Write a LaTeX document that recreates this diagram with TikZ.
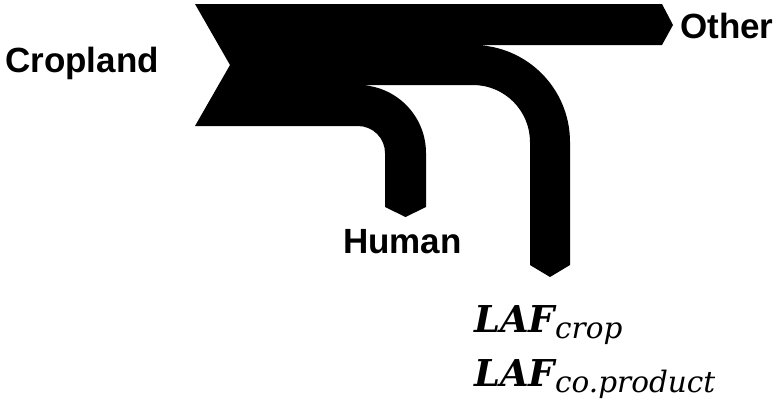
\documentclass[tikz,border=0pt]{standalone}
\usepackage{fontspec}
\setmainfont{Liberation Sans}
\newfontfamily\laffont{DejaVu Serif}
\begin{document}
\begin{tikzpicture}[x=1pt,y=1pt,
  lbl/.style={anchor=base west,inner sep=0pt,font=\fontsize{35}{40}\selectfont\bfseries},
  laf/.style={anchor=base west,inner sep=0pt},
  band/.style={fill=black,draw=none}]
\useasboundingbox (0,0) rectangle (776,-405);
% flows
\fill[band] (195,-4) -- (662,-4) -- (673,-25) -- (662,-45) -- (473,-45)
  arc[start angle=90,end angle=0,radius=97] -- (570,-265) -- (550,-277) -- (530,-265) -- (530,-142)
  arc[start angle=0,end angle=90,radius=57] -- (358,-85)
  arc[start angle=90,end angle=0,radius=68] -- (426,-207) -- (405.5,-217) -- (385,-207) -- (385,-153)
  arc[start angle=0,end angle=90,radius=27] -- (195,-126) -- (230,-65) -- cycle;
% labels
\node[lbl] (crop) at (5,-72) {Cropland};
\node[lbl] (other) at (680,-38) {Other};
\node[lbl] (human) at (343,-253) {Human};
\node[laf] (laf1) at (474,-332) {\laffont\fontsize{37}{40}\selectfont\bfseries\itshape LAF\raisebox{-6pt}{\fontsize{29.5}{30}\selectfont\mdseries\itshape crop}};
\node[laf] (laf2) at (474,-386) {\laffont\fontsize{37}{40}\selectfont\bfseries\itshape LAF\raisebox{-6pt}{\fontsize{29.5}{30}\selectfont\mdseries\itshape co.product}};
\end{tikzpicture}
\end{document}
